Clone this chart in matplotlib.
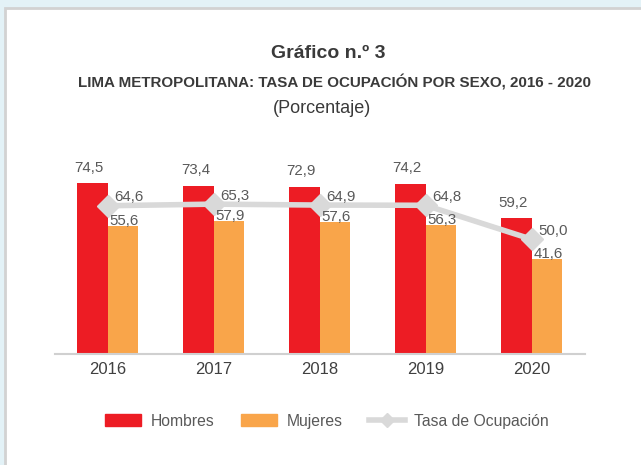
import matplotlib.pyplot as plt
import matplotlib.patches as mpatches
from matplotlib.lines import Line2D
import numpy as np

plt.rcParams['font.family'] = ['Liberation Sans', 'DejaVu Sans']

years = ['2016', '2017', '2018', '2019', '2020']
hombres = [74.5, 73.4, 72.9, 74.2, 59.2]
mujeres = [55.6, 57.9, 57.6, 56.3, 41.6]
tasa = [64.6, 65.3, 64.9, 64.8, 50.0]

RED = '#ed1c24'
ORANGE = '#f9a54a'
GRAY = '#d9d9d9'
TXT = '#595959'

W, H = 641, 465
fig = plt.figure(figsize=(W / 100, H / 100), dpi=100)
fig.patch.set_facecolor('#e3f2f7')

# white panel with grey border
panel = mpatches.Rectangle((5 / W, -0.1), 1.0, 1 - 8 / H + 0.1, transform=fig.transFigure,
                           facecolor='white', edgecolor='#d2d2d2', linewidth=2, zorder=-10)
fig.patches.append(panel)

fig.text(328 / W, 1 - 53 / H, 'Gráfico n.º 3', ha='center', va='center',
         fontsize=14, fontweight='bold', color='#3a3a3a')
fig.text(334 / W, 1 - 83 / H, 'LIMA METROPOLITANA: TASA DE OCUPACIÓN POR SEXO, 2016 - 2020',
         ha='center', va='center', fontsize=10.9, fontweight='bold', color='#3a3a3a')
fig.text(322 / W, 1 - 108 / H, '(Porcentaje)', ha='center', va='center',
         fontsize=13, color='#3a3a3a')

ymax = 80
ppu = 2.295
ax = fig.add_axes([54.5 / W, (H - 354) / H, 530 / W, ymax * ppu / H])
ax.set_facecolor('none')
ax.set_zorder(1)
x = np.arange(len(years))
bw = 0.29
ax.bar(x - bw / 2, hombres, bw, color=RED, zorder=2)
ax.bar(x + bw / 2, mujeres, bw, color=ORANGE, zorder=2)
ax.plot(x, tasa, color=GRAY, linewidth=4, marker='D', markersize=11,
        markerfacecolor=GRAY, markeredgecolor=GRAY, zorder=3)

for i in range(len(years)):
    ax.annotate(f'{hombres[i]:.1f}'.replace('.', ','), (x[i] - bw / 2, hombres[i]),
                xytext=(-2, 6), textcoords='offset points', ha='center', va='bottom',
                fontsize=10.8, color=TXT)
    ax.annotate(f'{mujeres[i]:.1f}'.replace('.', ','), (x[i] + bw / 2, mujeres[i]),
                xytext=(1, -1.5), textcoords='offset points', ha='center', va='bottom',
                fontsize=10.8, color=TXT)
    ax.annotate(f'{tasa[i]:.1f}'.replace('.', ','), (x[i], tasa[i]),
                xytext=(5, 1), textcoords='offset points', ha='left', va='bottom',
                fontsize=10.8, color=TXT)

ax.set_xlim(-0.5, len(years) - 0.5)
ax.set_ylim(0, ymax)
ax.set_xticks(x)
ax.set_xticklabels(years, fontsize=12, color='#404040')
ax.tick_params(axis='x', length=0, pad=6)
ax.set_yticks([])
for s in ['top', 'right', 'left']:
    ax.spines[s].set_visible(False)
ax.spines['bottom'].set_color('#d0d0d0')
ax.spines['bottom'].set_linewidth(1.5)

handles = [mpatches.Patch(color=RED, label='Hombres'),
           mpatches.Patch(color=ORANGE, label='Mujeres'),
           Line2D([], [], color=GRAY, linewidth=4, marker='D', markersize=7,
                  label='Tasa de Ocupación')]
fig.legend(handles=handles, loc='center', bbox_to_anchor=(327 / W, 1 - 421 / H), ncol=3,
           frameon=False, fontsize=11.3, labelcolor='#595959', handlelength=2.3,
           handleheight=0.8, columnspacing=1.7, handletextpad=0.6)

fig.savefig('out.png', dpi=100, facecolor=fig.get_facecolor())
